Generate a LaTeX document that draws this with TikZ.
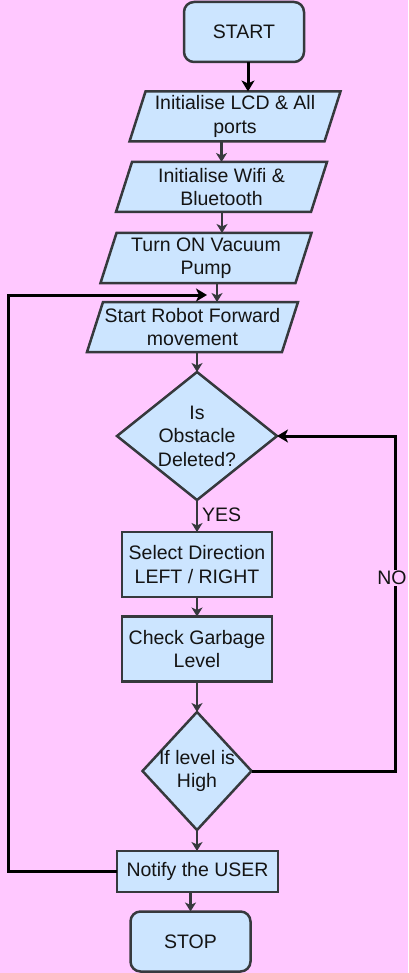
\documentclass[tikz,border=0pt]{standalone}
\usepackage{fontspec}
\setmainfont{Liberation Sans}
\usetikzlibrary{arrows.meta,backgrounds}
\definecolor{bgpink}{HTML}{FFC8FF}
\definecolor{boxblue}{HTML}{CCE5FF}
\definecolor{edgegray}{HTML}{36393D}
\begin{document}
\begin{tikzpicture}[x=1pt,y=-1pt,
  txt/.style={align=center, font=\fontsize{19.5pt}{23.5pt}\selectfont, text=black!92, inner sep=0pt, outer sep=0pt},
  shapebox/.style={fill=boxblue, draw=edgegray, line width=2.5pt},
  termbox/.style={txt, shapebox, rounded corners=10pt, minimum width=120pt, minimum height=60pt},
  procbox/.style={txt, shapebox, minimum width=150pt, minimum height=65pt},
  iobox/.style={txt, minimum width=211pt, minimum height=50pt},
  garr/.style={draw=edgegray, line width=2.5pt, -{Stealth[length=9pt,width=11pt,inset=2.5pt]}},
  barr/.style={draw=black, line width=3pt, -{Stealth[length=11pt,width=13pt,inset=3pt]}},
  bline/.style={draw=black, line width=3pt},
  skewshape/.style={fill=boxblue, draw=edgegray, line width=2.5pt, line join=miter}
]
\useasboundingbox (0,0) rectangle (408,973);
\begin{pgfonlayer}{background}
\fill[bgpink] (0,0) rectangle (408,973);
\end{pgfonlayer}

% nodes
\node[termbox] (start) at (244,32) {START};
\node[iobox] (lcd) at (235,116.5) {Initialise LCD \& All\\ports};
\node[iobox] (wifi) at (221.5,187) {Initialise Wifi \&\\Bluetooth};
\node[iobox] (vac) at (206,258) {Turn ON Vacuum\\Pump};
\node[iobox] (robot) at (192.5,327) {Start Robot Forward\\movement};
\node[txt, minimum width=160pt, minimum height=128pt] (d1) at (197,436) {Is\\Obstacle\\Deleted?};
\node[procbox] (dir) at (197,564.5) {Select Direction\\LEFT / RIGHT};
\node[procbox] (garb) at (197,649) {Check Garbage\\Level};
\node[txt, minimum width=109pt, minimum height=118pt] (d2) at (197,771) {If level is\\High};
\node[txt, shapebox, minimum width=161pt, minimum height=41pt] (notify) at (197.5,871.5) {Notify the USER};
\node[termbox] (stop) at (190.5,941.5) {STOP};

% shapes behind text
\begin{pgfonlayer}{background}
\foreach \n in {lcd,wifi,vac,robot}{
  \draw[skewshape] ([xshift=16pt]\n.north west) -- (\n.north east) -- ([xshift=-16pt]\n.south east) -- (\n.south west) -- cycle;
}
\foreach \n in {d1,d2}{
  \draw[skewshape] (\n.north) -- (\n.east) -- (\n.south) -- (\n.west) -- cycle;
}
\end{pgfonlayer}

% connectors
\draw[barr] ([xshift=4pt]start.south) -- ([xshift=13pt]lcd.north);
\draw[garr] (lcd.south -| wifi.north) -- (wifi.north);
\draw[garr] ([xshift=0.5pt]wifi.south) -- ([xshift=16pt]vac.north);
\draw[garr] ([xshift=11pt]vac.south) -- ([xshift=24.5pt]robot.north);
\draw[garr] (robot.south -| d1.north) -- (d1.north);
\draw[garr] (d1.south) -- node[txt, right=5pt, pos=0.45] (yes) {YES} (dir.north);
\draw[garr] (dir.south) -- (garb.north);
\draw[garr] (garb.south) -- (d2.north);
\draw[garr] (d2.south) -- (d2.south |- notify.north);
\draw[garr] (notify.south -| stop.north) -- (stop.north);

\coordinate (rx) at (395,0);
\draw[barr] (d2.east) -- (d2.east -| rx) |- (d1.east);
\node[txt, fill=bgpink, inner sep=1pt] (no) at (392,578) {NO};

\coordinate (lx) at (8,0);
\coordinate (loopend) at (207,295);
\draw[barr] (notify.west) -- (notify.west -| lx) |- (loopend);
\end{tikzpicture}
\end{document}
